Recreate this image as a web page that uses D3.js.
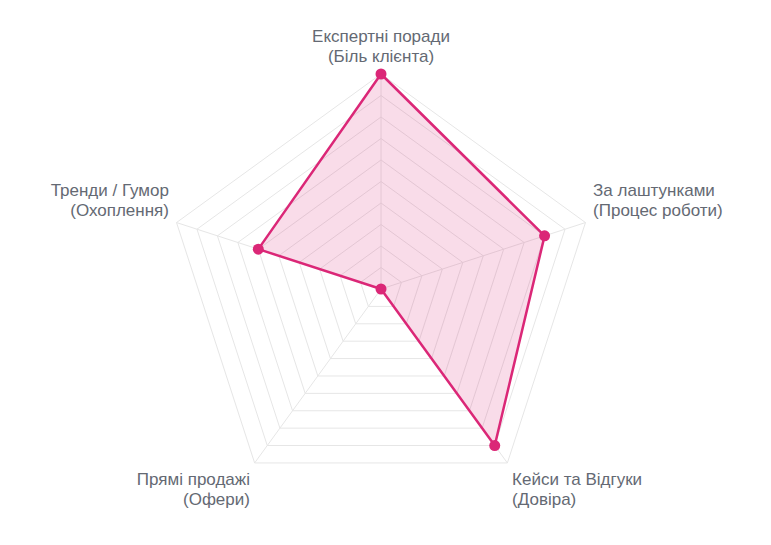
<!DOCTYPE html>
<html>
<head>
<meta charset="utf-8">
<script src="https://cdn.jsdelivr.net/npm/d3@7"></script>
<style>
  html, body { margin: 0; padding: 0; background: #fff; }
  svg { display: block; }
</style>
</head>
<body>
<svg id="chart" width="771" height="545"></svg>
<script>
// categories (two lines each) and values, clockwise from the top
var categories = [
    ["Експертні поради", "(Біль клієнта)"],
    ["За лаштунками", "(Процес роботи)"],
    ["Кейси та Відгуки", "(Довіра)"],
    ["Прямі продажі", "(Офери)"],
    ["Тренди / Гумор", "(Охоплення)"]
];
var values = [10, 8, 9, 0, 6];
var ticks = [1, 2, 3, 4, 5, 6, 7, 8, 9, 10];

var cx = 381, cy = 289, radius = 215;
var mainColor = "#db2777";

var svg = d3.select("#chart");
var g = svg.append("g").attr("transform", "translate(" + cx + "," + cy + ")");

var r = d3.scaleLinear().domain([0, 10]).range([0, radius]);
var angle = d3.scaleLinear().domain([0, categories.length]).range([0, 2 * Math.PI]);

// point at (index, value) in chart coords, angle 0 = straight up
function pos(i, v) {
    var a = angle(i) - Math.PI / 2;
    return [Math.cos(a) * r(v), Math.sin(a) * r(v)];
}

// grid rings
ticks.forEach(function (t) {
    var pts = categories.map(function (c, i) { return pos(i, t); });
    g.append("path")
        .attr("d", "M" + pts.join("L") + "Z")
        .attr("fill", "none")
        .attr("stroke", "#e6e6e6")
        .attr("stroke-width", 1);
});

// spokes
categories.forEach(function (c, i) {
    var p = pos(i, 10);
    g.append("line")
        .attr("x1", 0).attr("y1", 0)
        .attr("x2", p[0]).attr("y2", p[1])
        .attr("stroke", "#e6e6e6")
        .attr("stroke-width", 1);
});

// data area
var line = d3.lineRadial()
    .angle(function (d, i) { return angle(i); })
    .radius(function (d) { return r(d); })
    .curve(d3.curveLinearClosed);

g.append("path")
    .datum(values)
    .attr("d", line)
    .attr("fill", mainColor)
    .attr("fill-opacity", 0.16)
    .attr("stroke", mainColor)
    .attr("stroke-width", 2.5)
    .attr("stroke-linejoin", "round");

g.selectAll("circle.pt")
    .data(values)
    .enter().append("circle")
    .attr("class", "pt")
    .attr("cx", function (d, i) { return pos(i, d)[0]; })
    .attr("cy", function (d, i) { return pos(i, d)[1]; })
    .attr("r", 5.5)
    .attr("fill", mainColor);

// point labels
var lineH = 20;
categories.forEach(function (lines, i) {
    var p = pos(i, 10);
    var a = angle(i) - Math.PI / 2;
    var x = p[0] + Math.cos(a) * 8;
    var y = p[1] + Math.sin(a) * 8;
    var anchor = Math.abs(x) < 1 ? "middle" : (x > 0 ? "start" : "end");
    // block sits above the point in the upper half, below it in the lower half
    var top = y > 0 ? y : y - lines.length * lineH;
    var t = g.append("text")
        .attr("text-anchor", anchor)
        .attr("font-family", "'Liberation Sans', Arial, sans-serif")
        .attr("font-size", 17)
        .attr("fill", "#646973");
    lines.forEach(function (s, k) {
        t.append("tspan")
            .attr("x", x)
            .attr("y", top + lineH * k + lineH / 2)
            .attr("dominant-baseline", "central")
            .text(s);
    });
});
</script>
</body>
</html>
